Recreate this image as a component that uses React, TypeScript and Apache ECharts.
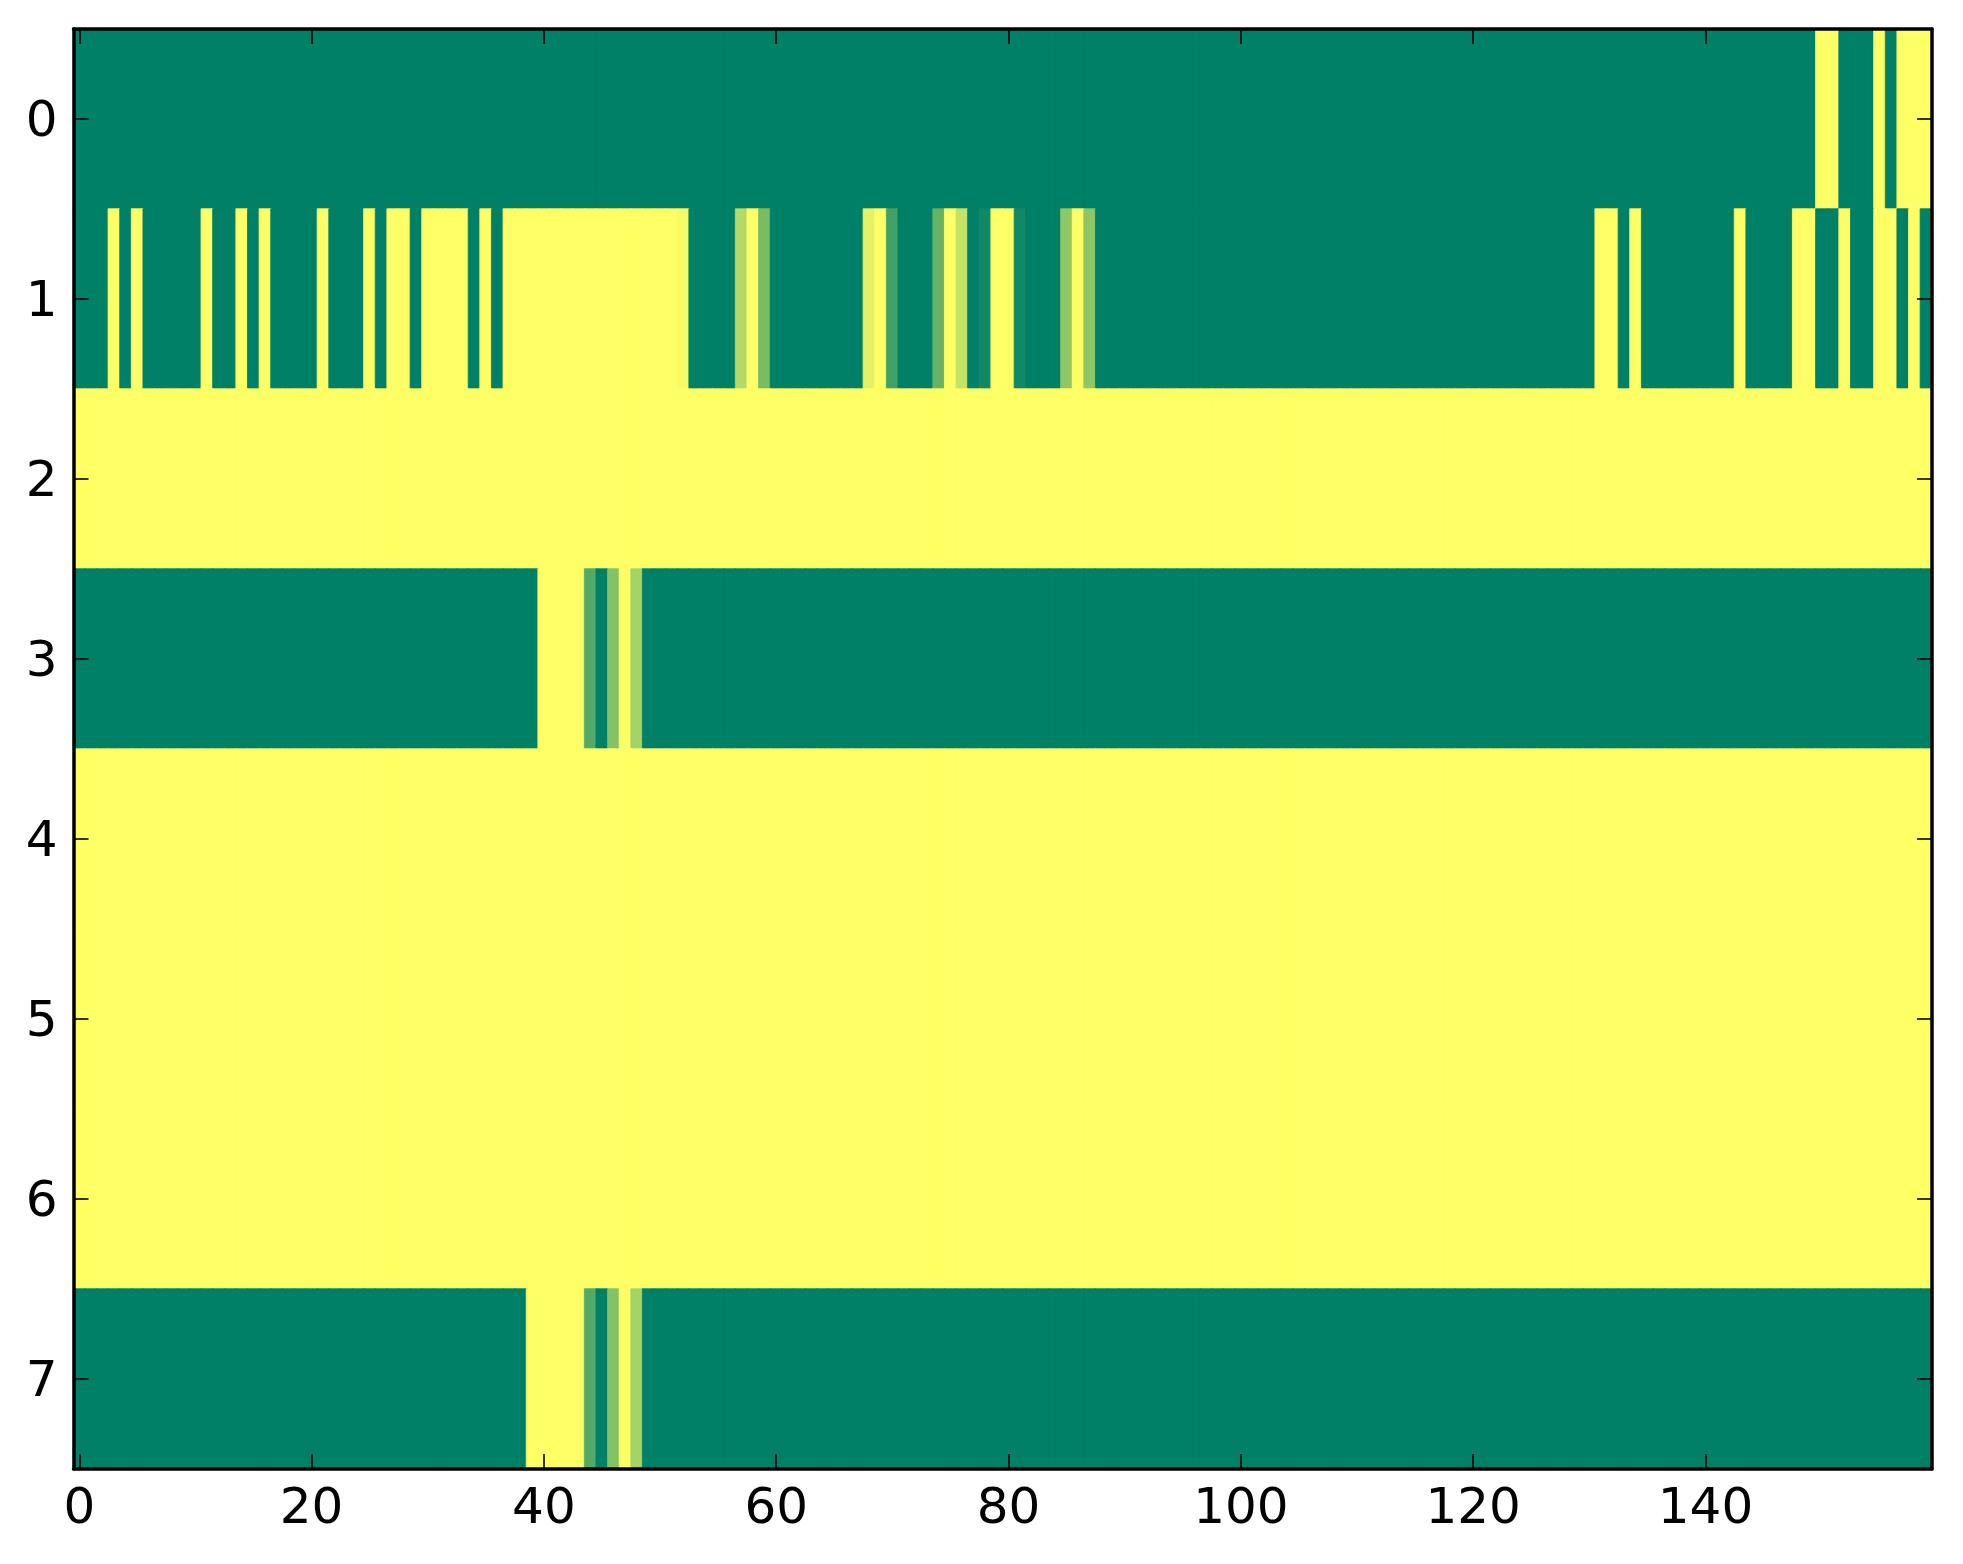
import React, { useEffect, useRef } from "react";
import * as echarts from "echarts";

// Row labels (y categories, top to bottom)
const rowLabels = ["0", "1", "2", "3", "4", "5", "6", "7"];
// Shown x tick labels
const xTickLabels = [0, 20, 40, 60, 80, 100, 120, 140];
const columnCount = 160;
// summer colormap end points
const colorStops = ["#008066", "#ffff66"];

const row0 = [
  0,0,0,0,0,0,0,0,0,0,0,0,0,0,0,0,0,0,0,0,
  0,0,0,0,0,0,0,0,0,0,0,0,0,0,0,0,0,0,0,0,
  0,0,0,0,0,0,0,0,0,0,0,0,0,0,0,0,0,0,0,0,
  0,0,0,0,0,0,0,0,0,0,0,0,0,0,0,0,0,0,0,0,
  0,0,0,0,0,0,0,0,0,0,0,0,0,0,0,0,0,0,0,0,
  0,0,0,0,0,0,0,0,0,0,0,0,0,0,0,0,0,0,0,0,
  0,0,0,0,0,0,0,0,0,0,0,0,0,0,0,0,0,0,0,0,
  0,0,0,0,0,0,0,0,0,0,1,1,0,0,0,1,0,1,1,1,
];
const row1 = [
  0,0,0,1,0,1,0,0,0,0,0,1,0,0,1,0,1,0,0,0,
  0,1,0,0,0,1,0,1,1,0,1,1,1,1,0,1,0,1,1,1,
  1,1,1,1,1,1,1,1,1,1,1,1,0.97,0,0,0,0,0.7,1,0.47,
  0,0,0,0,0,0,0,0,0.9,1,0.26,0,0,0,0.4,1,0.77,0,0.07,1,
  1,0.07,0,0,0,0.56,1,0.56,0,0,0,0,0,0,0,0,0,0,0,0,
  0,0,0,0,0,0,0,0,0,0,0,0,0,0,0,0,0,0,0,0,
  0,0,0,0,0,0,0,0,0,0,0,1,1,0,1,0,0,0,0,0,
  0,0,0,1,0,0,0,0,1,1,0,0,1,0,0,1,1,0,1,0,
];
const row2 = [
  1,1,1,1,1,1,1,1,1,1,1,1,1,1,1,1,1,1,1,1,
  1,1,1,1,1,1,1,1,1,1,1,1,1,1,1,1,1,1,1,1,
  1,1,1,1,1,1,1,1,1,1,1,1,1,1,1,1,1,1,1,1,
  1,1,1,1,1,1,1,1,1,1,1,1,1,1,1,1,1,1,1,1,
  1,1,1,1,1,1,1,1,1,1,1,1,1,1,1,1,1,1,1,1,
  1,1,1,1,1,1,1,1,1,1,1,1,1,1,1,1,1,1,1,1,
  1,1,1,1,1,1,1,1,1,1,1,1,1,1,1,1,1,1,1,1,
  1,1,1,1,1,1,1,1,1,1,1,1,1,1,1,1,1,1,1,1,
];
const row3 = [
  0,0,0,0,0,0,0,0,0,0,0,0,0,0,0,0,0,0,0,0,
  0,0,0,0,0,0,0,0,0,0,0,0,0,0,0,0,0,0,0,0,
  1,1,1,1,0.33,0,0.52,1,0.65,0,0,0,0,0,0,0,0,0,0,0,
  0,0,0,0,0,0,0,0,0,0,0,0,0,0,0,0,0,0,0,0,
  0,0,0,0,0,0,0,0,0,0,0,0,0,0,0,0,0,0,0,0,
  0,0,0,0,0,0,0,0,0,0,0,0,0,0,0,0,0,0,0,0,
  0,0,0,0,0,0,0,0,0,0,0,0,0,0,0,0,0,0,0,0,
  0,0,0,0,0,0,0,0,0,0,0,0,0,0,0,0,0,0,0,0,
];
const row4 = [
  1,1,1,1,1,1,1,1,1,1,1,1,1,1,1,1,1,1,1,1,
  1,1,1,1,1,1,1,1,1,1,1,1,1,1,1,1,1,1,1,1,
  1,1,1,1,1,1,1,1,1,1,1,1,1,1,1,1,1,1,1,1,
  1,1,1,1,1,1,1,1,1,1,1,1,1,1,1,1,1,1,1,1,
  1,1,1,1,1,1,1,1,1,1,1,1,1,1,1,1,1,1,1,1,
  1,1,1,1,1,1,1,1,1,1,1,1,1,1,1,1,1,1,1,1,
  1,1,1,1,1,1,1,1,1,1,1,1,1,1,1,1,1,1,1,1,
  1,1,1,1,1,1,1,1,1,1,1,1,1,1,1,1,1,1,1,1,
];
const row5 = [
  1,1,1,1,1,1,1,1,1,1,1,1,1,1,1,1,1,1,1,1,
  1,1,1,1,1,1,1,1,1,1,1,1,1,1,1,1,1,1,1,1,
  1,1,1,1,1,1,1,1,1,1,1,1,1,1,1,1,1,1,1,1,
  1,1,1,1,1,1,1,1,1,1,1,1,1,1,1,1,1,1,1,1,
  1,1,1,1,1,1,1,1,1,1,1,1,1,1,1,1,1,1,1,1,
  1,1,1,1,1,1,1,1,1,1,1,1,1,1,1,1,1,1,1,1,
  1,1,1,1,1,1,1,1,1,1,1,1,1,1,1,1,1,1,1,1,
  1,1,1,1,1,1,1,1,1,1,1,1,1,1,1,1,1,1,1,1,
];
const row6 = [
  1,1,1,1,1,1,1,1,1,1,1,1,1,1,1,1,1,1,1,1,
  1,1,1,1,1,1,1,1,1,1,1,1,1,1,1,1,1,1,1,1,
  1,1,1,1,1,1,1,1,1,1,1,1,1,1,1,1,1,1,1,1,
  1,1,1,1,1,1,1,1,1,1,1,1,1,1,1,1,1,1,1,1,
  1,1,1,1,1,1,1,1,1,1,1,1,1,1,1,1,1,1,1,1,
  1,1,1,1,1,1,1,1,1,1,1,1,1,1,1,1,1,1,1,1,
  1,1,1,1,1,1,1,1,1,1,1,1,1,1,1,1,1,1,1,1,
  1,1,1,1,1,1,1,1,1,1,1,1,1,1,1,1,1,1,1,1,
];
const row7 = [
  0,0,0,0,0,0,0,0,0,0,0,0,0,0,0,0,0,0,0,0,
  0,0,0,0,0,0,0,0,0,0,0,0,0,0,0,0,0,0,0,1,
  1,1,1,1,0.33,0,0.52,1,0.65,0,0,0,0,0,0,0,0,0,0,0,
  0,0,0,0,0,0,0,0,0,0,0,0,0,0,0,0,0,0,0,0,
  0,0,0,0,0,0,0,0,0,0,0,0,0,0,0,0,0,0,0,0,
  0,0,0,0,0,0,0,0,0,0,0,0,0,0,0,0,0,0,0,0,
  0,0,0,0,0,0,0,0,0,0,0,0,0,0,0,0,0,0,0,0,
  0,0,0,0,0,0,0,0,0,0,0,0,0,0,0,0,0,0,0,0,
];

const rows = [row0, row1, row2, row3, row4, row5, row6, row7];

export default function App() {
  const ref = useRef<HTMLDivElement>(null);

  useEffect(() => {
    document.body.style.margin = "0";
    if (!ref.current) return;
    const chart = echarts.init(ref.current, undefined, { renderer: "svg" });

    const columns = Array.from({ length: columnCount }, (_, i) => String(i));
    const data: any[] = [];
    rows.forEach((row, r) => {
      row.forEach((v, c) => {
        const col = echarts.color.lerp(v, colorStops) as string;
        data.push({
          value: [c, r, v],
          itemStyle: { borderColor: col, borderWidth: 0.8 },
        });
      });
    });

    const font = { fontFamily: "DejaVu Sans", fontSize: 50, color: "#000" };
    const lineStyle = { color: "#000", width: 3.5 };
    const tickStyle = { color: "#000", width: 1.6 };
    const showX = (i: number) => xTickLabels.includes(i);

    chart.setOption({
      animation: false,
      backgroundColor: "#fff",
      grid: { left: 73.5, right: 31, top: 29, bottom: 95, containLabel: false },
      visualMap: {
        show: false,
        type: "continuous",
        min: 0,
        max: 1,
        dimension: 2,
        inRange: { color: colorStops },
      },
      xAxis: [
        {
          type: "category",
          data: columns,
          position: "bottom",
          z: 10,
          axisLine: { show: true, lineStyle, onZero: false },
          axisTick: { show: true, inside: true, length: 15, alignWithLabel: true, interval: showX, lineStyle: tickStyle },
          axisLabel: { show: true, interval: showX, margin: 12, ...font },
          splitLine: { show: false },
        },
        {
          type: "category",
          data: columns,
          position: "top",
          z: 10,
          axisLine: { show: true, lineStyle, onZero: false },
          axisTick: { show: true, inside: true, length: 15, alignWithLabel: true, interval: showX, lineStyle: tickStyle },
          axisLabel: { show: false },
          splitLine: { show: false },
        },
      ],
      yAxis: [
        {
          type: "category",
          data: rowLabels,
          inverse: true,
          position: "left",
          z: 10,
          axisLine: { show: true, lineStyle, onZero: false },
          axisTick: { show: true, inside: true, length: 15, alignWithLabel: true, interval: 0, lineStyle: tickStyle },
          axisLabel: { show: true, interval: 0, margin: 16, ...font },
          splitLine: { show: false },
        },
        {
          type: "category",
          data: rowLabels,
          inverse: true,
          position: "right",
          z: 10,
          axisLine: { show: true, lineStyle, onZero: false },
          axisTick: { show: true, inside: true, length: 15, alignWithLabel: true, interval: 0, lineStyle: tickStyle },
          axisLabel: { show: false },
          splitLine: { show: false },
        },
      ],
      series: [
        {
          type: "heatmap",
          xAxisIndex: 0,
          yAxisIndex: 0,
          data,
          emphasis: { disabled: true },
          progressive: 0,
        },
      ],
    });

    return () => chart.dispose();
  }, []);

  return <div ref={ref} style={{ width: 1963, height: 1564 }} />;
}
